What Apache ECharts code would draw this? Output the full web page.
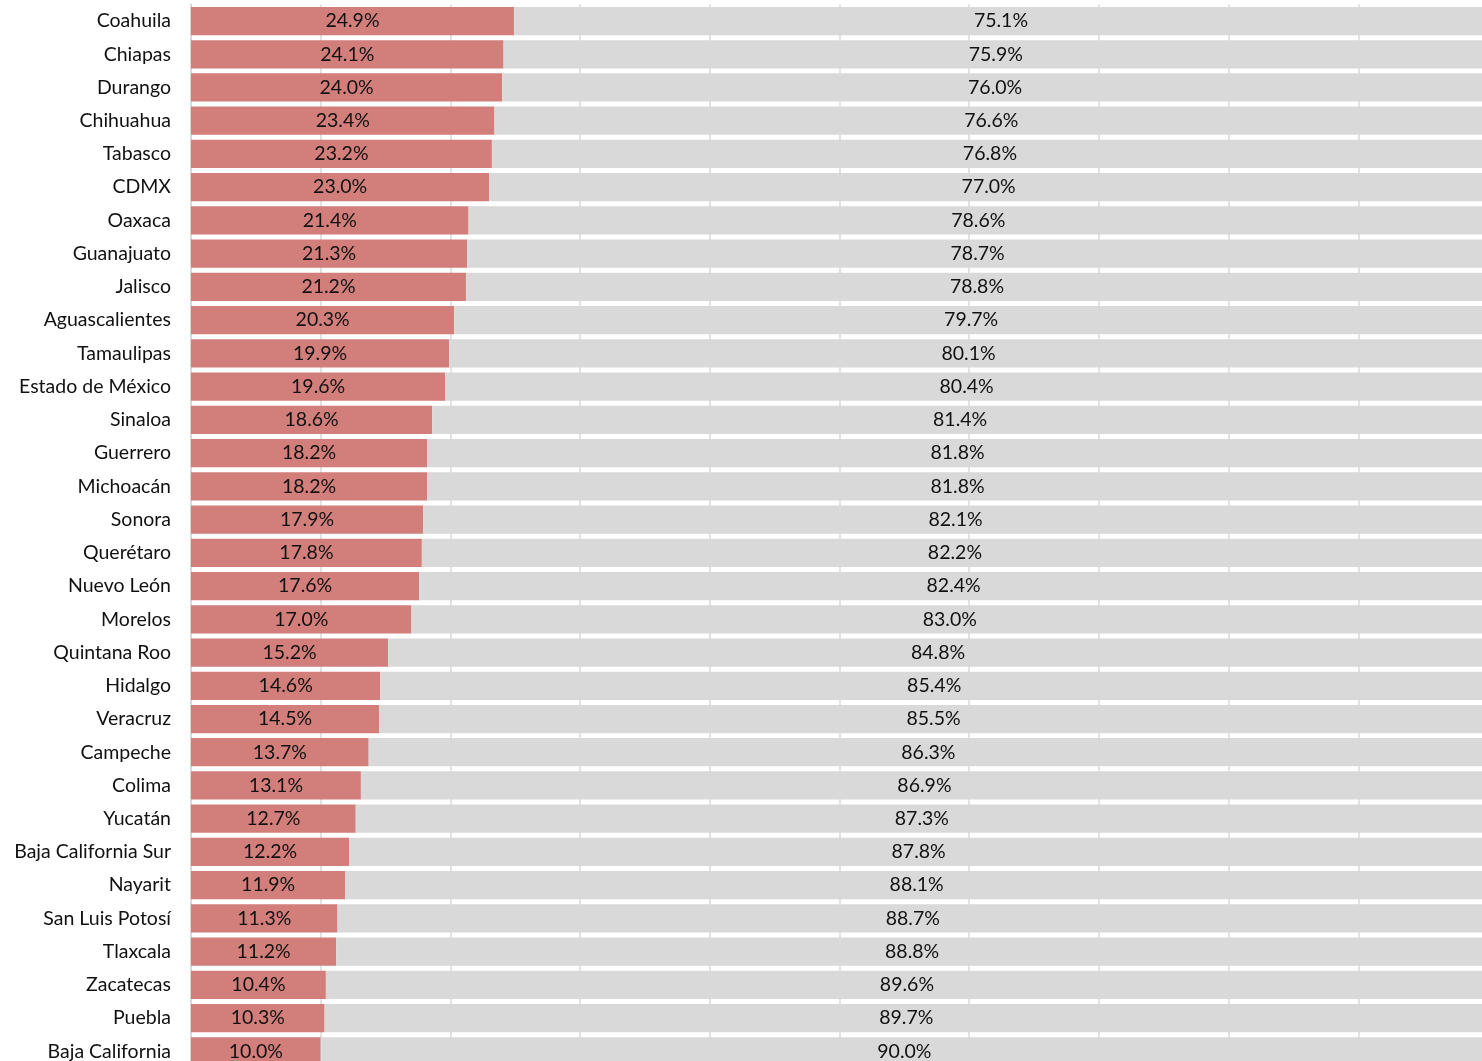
<!DOCTYPE html>
<html>
<head>
<meta charset="utf-8">
<script src="https://cdn.jsdelivr.net/npm/echarts@6/dist/echarts.min.js"></script>
<style>
  html, body { margin: 0; padding: 0; background: #fff; overflow: hidden; }
  #main { width: 1488px; height: 1068px; }
</style>
</head>
<body>
<div id="main"></div>
<script>
const states = ['Coahuila', 'Chiapas', 'Durango', 'Chihuahua', 'Tabasco', 'CDMX', 'Oaxaca',
  'Guanajuato', 'Jalisco', 'Aguascalientes', 'Tamaulipas', 'Estado de México', 'Sinaloa',
  'Guerrero', 'Michoacán', 'Sonora', 'Querétaro', 'Nuevo León', 'Morelos', 'Quintana Roo',
  'Hidalgo', 'Veracruz', 'Campeche', 'Colima', 'Yucatán', 'Baja California Sur', 'Nayarit',
  'San Luis Potosí', 'Tlaxcala', 'Zacatecas', 'Puebla', 'Baja California']
const redShare = [24.9, 24.1, 24.0, 23.4, 23.2, 23.0, 21.4, 21.3, 21.2, 20.3, 19.9, 19.6,
  18.6, 18.2, 18.2, 17.9, 17.8, 17.6, 17.0, 15.2, 14.6, 14.5, 13.7, 13.1, 12.7, 12.2, 11.9,
  11.3, 11.2, 10.4, 10.3, 10.0]
const grayShare = [75.1, 75.9, 76.0, 76.6, 76.8, 77.0, 78.6, 78.7, 78.8, 79.7, 80.1, 80.4,
  81.4, 81.8, 81.8, 82.1, 82.2, 82.4, 83.0, 84.8, 85.4, 85.5, 86.3, 86.9, 87.3, 87.8, 88.1,
  88.7, 88.8, 89.6, 89.7, 90.0]

const font = 'Lato, "Open Sans", sans-serif'
const chart = echarts.init(document.getElementById('main'))

const labelStyle = {
  show: true,
  position: 'inside',
  color: '#111',
  fontFamily: font,
  fontSize: 19.5,
  formatter: (p) => p.value.toFixed(1) + '%'
}

chart.setOption({
  animation: false,
  grid: { left: 191, right: 0, top: 4.4, bottom: 0, containLabel: false },
  xAxis: {
    type: 'value',
    min: 0,
    max: 100,
    interval: 10,
    axisLabel: { show: false },
    axisLine: { show: false },
    axisTick: { show: false },
    splitLine: { show: true, lineStyle: { color: '#d9d9d9', width: 1.5 } }
  },
  yAxis: {
    type: 'category',
    inverse: true,
    data: states,
    axisTick: { show: false },
    axisLine: { show: true, lineStyle: { color: '#d9d9d9', width: 2 } },
    axisLabel: { color: '#111', fontFamily: font, fontSize: 19.5, margin: 20 }
  },
  series: [
    {
      name: 'red',
      type: 'bar',
      stack: 'total',
      data: redShare,
      barCategoryGap: '15%',
      itemStyle: { color: '#d27e7a' },
      label: labelStyle
    },
    {
      name: 'gray',
      type: 'bar',
      stack: 'total',
      data: grayShare,
      itemStyle: { color: '#d9d9d9' },
      label: labelStyle
    }
  ]
})
</script>
</body>
</html>
